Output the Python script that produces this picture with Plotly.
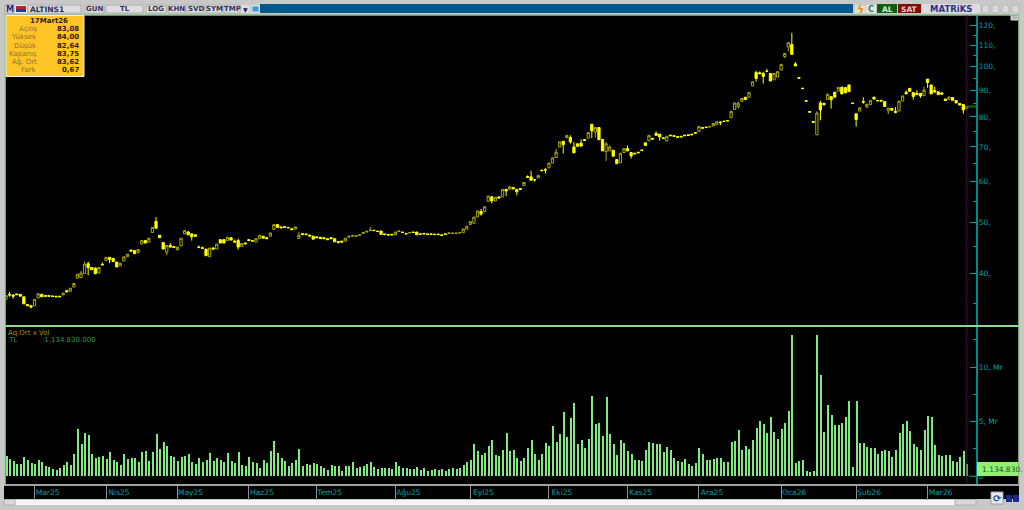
import plotly.graph_objects as go

months = ["Mar25","Nis25","May25","Haz25","Tem25","Ağu25","Eyl25","Eki25","Kas25","Ara25","Oca26","Şub26","Mar26"]
month_start = [8,28,48,68,87,109,130,152,174,194,217,238,258]

opens = [35.6,36.4,36.3,36.45,36.4,36.0,34.8,34.6,34.6,35.8,
36.4,36.2,36.2,36.15,36.1,36.1,36.3,37.0,36.9,37.6,
39.1,39.2,39.9,41.7,41.0,40.9,40.0,41.6,42.3,42.9,
42.7,42.0,41.3,42.2,43.0,44.3,44.2,43.8,45.5,46.2,
45.9,47.9,50.3,47.3,45.8,43.9,45.2,45.0,44.4,45.1,
47.6,48.0,47.6,47.4,44.9,44.75,44.5,43.0,44.7,44.5,
46.4,46.4,46.2,46.8,46.1,46.2,45.0,45.7,46.4,46.2,
45.9,46.6,47.1,46.8,47.1,48.55,49.6,49.1,49.15,49.0,
48.7,48.65,46.65,47.65,47.6,47.35,47.1,47.0,46.9,46.8,
46.6,46.8,46.6,46.0,46.1,46.1,46.9,47.1,47.1,47.3,
47.7,48.0,48.3,48.4,48.2,48.2,47.6,47.45,47.5,47.4,
48.1,48.0,47.7,47.8,48.0,48.0,47.6,47.7,47.6,47.6,
47.55,47.55,47.4,47.6,47.7,47.7,47.7,47.8,47.85,48.6,
49.65,49.9,51.3,52.6,52.6,55.0,56.1,55.1,56.1,56.1,
58.0,58.0,58.5,58.0,58.2,59.0,61.4,61.3,60.6,61.0,
63.1,63.3,63.8,65.2,66.8,70.0,71.8,72.9,73.0,70.0,
71.0,71.2,72.4,72.8,77.4,74.8,76.3,72.4,68.6,68.8,
69.0,66.2,65.3,68.3,69.5,68.3,68.1,68.4,69.1,71.3,
71.9,72.7,74.3,74.1,72.9,71.9,73.8,73.6,73.3,73.4,
73.8,73.9,74.1,74.6,75.0,76.3,76.5,76.5,76.8,77.3,
78.2,78.5,78.7,79.7,82.7,83.7,85.7,87.3,87.3,91.8,
97.4,97.3,97.1,98.0,97.0,94.3,95.4,98.5,104.6,109.1,
110.3,101.2,95.3,90.9,86.0,81.9,78.4,73.9,85.1,85.0,
86.4,87.5,89.3,89.7,91.3,91.1,92.2,85.1,81.1,82.1,
85.6,83.6,84.5,87.3,86.1,86.1,85.6,82.2,83.1,82.0,
82.1,85.8,89.2,90.8,89.1,88.8,88.8,87.9,94.6,92.2,
89.9,89.4,89.0,86.6,86.5,87.2,86.0,84.9,84.5,83.08]

closes = [36.2,36.3,36.1,36.35,36.1,34.9,34.6,34.4,35.6,36.5,
36.0,36.1,36.1,36.05,36.0,36.0,36.6,36.8,37.4,38.2,
39.8,40.0,41.6,41.0,40.6,39.9,41.0,41.5,42.9,42.5,
42.1,41.1,41.8,43.0,43.5,44.1,43.6,44.4,46.2,45.7,
46.7,49.0,48.8,46.8,44.5,45.2,44.9,44.8,44.9,46.7,
48.3,47.4,47.0,47.1,44.8,44.65,43.2,44.7,44.5,45.5,
45.7,45.7,46.9,46.3,45.9,44.9,45.6,45.55,46.2,46.1,
46.6,47.3,46.7,46.6,47.8,49.6,49.0,48.9,49.0,48.9,
48.5,49.1,47.3,47.45,47.45,47.15,46.5,46.8,46.6,46.6,
46.4,46.6,45.95,45.85,45.9,46.7,47.1,47.2,47.25,47.4,
47.9,48.15,48.4,48.3,48.1,47.5,47.45,47.35,47.4,48.0,
48.2,47.9,47.6,47.9,47.9,47.4,47.5,47.6,47.5,47.5,
47.45,47.45,47.3,47.5,47.8,47.75,47.75,47.85,48.65,49.25,
50.25,51.3,52.7,52.0,53.7,56.3,55.1,56.0,55.8,58.0,
57.6,58.7,58.1,57.4,58.0,59.8,61.2,60.4,60.5,61.7,
63.0,63.2,65.2,66.7,68.4,71.6,70.8,73.7,71.6,68.2,
70.2,70.3,72.0,74.6,75.2,76.3,72.3,68.8,71.0,70.0,
67.2,65.0,68.1,69.5,68.8,67.3,67.9,68.2,68.9,70.5,
73.7,72.5,73.7,73.2,72.7,73.4,73.6,73.4,73.1,73.2,
73.6,73.7,73.9,74.4,76.7,76.1,76.3,76.6,77.7,78.3,
78.0,78.4,78.6,82.0,85.1,85.0,86.8,86.4,89.1,93.5,
94.9,96.9,95.7,97.9,93.8,97.0,97.8,101.0,106.0,111.2,
105.6,100.3,95.0,90.7,85.8,81.7,78.1,81.4,82.5,84.5,
88.4,86.3,87.3,91.2,88.6,89.0,89.5,84.9,79.1,83.3,
85.4,84.6,86.0,86.6,85.9,85.8,83.8,83.2,82.4,81.6,
85.8,87.8,88.6,89.6,87.6,88.3,87.8,90.1,93.2,88.6,
89.3,88.3,88.5,86.0,87.4,86.1,85.1,84.3,82.5,83.75]

highs = [36.2,36.8,36.3,36.5,36.4,36.0,34.8,34.7,35.6,36.5,
36.5,36.2,36.2,36.15,36.1,36.1,36.6,37.1,37.4,38.2,
39.8,40.4,42.1,42.1,41.0,41.0,41.0,41.9,42.9,42.9,
42.7,42.0,41.8,43.0,43.5,44.4,44.2,44.4,46.2,46.3,
46.7,49.0,51.3,47.4,45.8,45.2,45.7,45.0,44.9,46.7,
48.3,48.2,47.7,47.4,45.2,45.0,44.5,44.7,44.9,45.5,
46.4,46.4,46.9,46.8,46.4,46.6,45.6,45.8,46.5,46.3,
46.6,47.3,47.1,46.8,47.8,49.6,49.7,49.1,49.2,49.0,
48.7,49.1,48.05,47.7,47.6,47.35,47.1,47.0,46.9,46.8,
46.6,46.8,46.6,46.0,46.1,46.7,47.1,47.4,47.25,47.4,
47.9,48.15,49.1,48.4,48.2,48.2,47.6,47.45,47.5,48.0,
48.3,48.0,47.7,47.9,48.0,48.0,47.6,47.7,47.6,47.6,
47.55,47.55,47.4,47.6,47.8,47.75,47.75,47.85,48.65,49.25,
50.25,51.3,52.7,53.2,53.7,56.3,56.3,56.0,56.1,58.0,
58.0,58.7,58.5,58.0,58.2,59.8,61.7,63.0,60.6,61.7,
63.4,63.8,65.2,66.7,69.4,71.6,71.8,73.7,73.7,71.6,
71.0,72.4,72.4,74.6,77.6,76.3,76.3,72.4,71.5,70.5,
69.0,66.2,68.1,69.5,70.5,68.3,68.1,68.4,69.1,71.3,
73.7,72.9,75.0,74.1,72.9,73.4,73.8,73.6,73.3,73.4,
73.8,73.9,74.1,74.6,76.7,76.3,76.5,76.6,77.7,78.3,
78.4,78.5,78.7,82.0,85.1,85.6,86.8,87.3,89.1,93.5,
98.2,97.9,97.5,99.0,97.2,97.0,97.8,101.0,106.0,111.2,
116.2,102.0,95.3,90.9,86.0,81.9,78.4,82.0,86.0,85.0,
88.8,87.5,89.3,91.2,91.3,91.1,92.2,85.1,81.1,83.3,
87.3,84.6,86.0,87.5,86.1,86.1,85.6,83.2,83.1,83.6,
85.8,87.8,90.0,90.8,89.1,90.0,88.8,91.5,94.6,92.2,
91.5,89.4,89.0,86.6,87.4,87.2,86.0,84.9,84.5,84.0]

lows = [35.6,36.0,35.7,36.3,36.1,34.9,34.6,34.2,34.6,35.8,
36.0,36.0,36.1,36.05,36.0,36.0,36.3,36.8,36.9,37.6,
39.1,39.2,39.9,39.6,40.6,39.8,40.0,41.4,42.3,41.8,
42.1,41.1,41.3,42.2,43.0,44.0,43.6,43.8,45.5,45.7,
45.9,47.9,48.8,46.8,44.5,43.3,44.8,44.8,44.2,45.1,
47.6,47.4,46.2,47.0,44.8,44.5,43.2,43.0,44.3,44.5,
45.7,45.7,46.2,46.3,45.8,44.4,45.0,45.5,46.2,46.1,
45.9,46.6,46.7,46.6,47.1,48.55,49.0,48.9,49.0,48.9,
48.5,48.65,46.65,47.45,47.4,47.15,46.5,46.8,46.6,46.6,
46.4,46.6,45.95,45.6,45.9,46.1,46.9,47.1,47.1,47.3,
47.7,48.0,48.3,48.3,48.1,47.5,47.45,47.35,47.4,47.4,
48.1,47.9,47.6,47.8,47.9,47.4,47.5,47.6,47.5,47.5,
47.45,47.45,47.3,47.5,47.7,47.7,47.7,47.8,47.85,48.6,
49.65,49.9,51.3,51.6,52.6,55.0,54.5,55.1,55.8,56.1,
56.3,58.0,58.1,56.5,58.0,59.0,61.0,60.4,60.0,61.0,
63.0,62.2,63.8,65.2,66.8,70.0,68.0,72.9,71.0,68.2,
70.2,70.0,72.0,72.8,72.8,73.0,72.3,68.8,65.8,68.8,
67.2,65.0,65.3,68.3,68.8,66.5,67.9,68.2,68.9,70.5,
71.9,72.3,73.7,72.0,72.7,71.9,73.6,73.4,73.1,73.2,
73.6,73.7,73.9,74.4,75.0,76.1,76.3,76.5,76.8,77.3,
77.1,78.4,78.6,79.7,82.7,83.0,85.7,86.4,87.3,91.8,
93.5,96.9,92.7,97.7,93.8,94.3,95.4,98.5,103.8,107.0,
105.6,100.3,95.0,90.7,85.8,81.7,78.1,73.9,78.8,84.0,
86.4,83.0,87.3,89.7,88.6,89.0,89.5,84.9,76.6,82.1,
84.8,83.2,84.5,86.4,85.9,85.8,83.8,81.0,82.4,81.3,
82.1,85.8,88.6,89.6,86.3,88.3,87.0,87.9,91.0,88.6,
89.3,88.3,88.5,86.0,86.5,86.1,85.1,84.3,81.2,82.64]

volume_mr = [1.83,1.53,1.38,1.13,1.07,1.71,1.44,1.19,1.10,1.44,
1.31,.89,.83,.61,.58,.70,1.01,1.31,1.01,1.99,
4.28,2.97,3.94,3.73,1.99,1.68,1.74,1.80,1.56,2.17,
1.44,1.31,1.01,2.05,1.56,1.62,1.62,1.25,2.23,2.29,
1.38,2.17,3.82,2.48,3.15,2.72,1.80,1.74,1.38,1.74,
1.87,1.99,1.31,1.13,1.62,1.31,1.44,2.11,1.38,1.68,
1.44,1.25,2.11,1.38,1.19,2.17,1.01,.89,1.74,1.25,
1.19,.70,1.47,1.19,2.32,3.18,2.11,1.62,1.38,.95,
1.19,1.50,2.48,.95,1.13,1.01,1.19,1.07,.95,.76,
.52,1.01,.95,.89,.46,.95,.95,1.25,.76,.83,
.95,1.07,1.25,.83,.64,.76,.76,.76,.64,1.25,
.89,.76,.70,.64,.64,.83,.58,.70,.46,.52,
.64,.58,.64,.46,.64,.70,.64,.70,1.01,1.25,
1.44,2.91,2.29,1.93,2.11,2.78,3.33,1.93,1.87,2.42,
3.91,2.32,2.39,1.68,1.38,1.68,2.54,3.27,2.05,1.50,
1.99,3.03,2.72,4.56,3.09,3.82,5.84,3.58,5.29,6.73,
2.97,3.27,2.54,3.39,7.34,4.74,4.86,3.70,7.22,3.82,
2.91,1.93,3.27,3.03,2.29,2.05,1.50,1.50,1.38,2.35,
3.09,3.03,2.97,2.97,2.23,2.66,2.35,1.62,1.38,1.31,
1.56,1.13,.95,1.19,2.54,1.99,1.44,1.44,1.56,1.68,
1.68,1.25,1.25,3.09,3.21,4.25,2.42,2.72,2.48,3.27,
4.43,5.05,4.80,3.98,5.44,4.04,3.36,4.28,4.89,5.99,
12.9,1.19,1.38,1.44,.43,.40,.46,12.9,9.24,4.04,
6.54,5.63,4.71,4.65,4.89,5.38,6.85,.86,6.91,3.0,
3.0,2.63,2.54,2.54,2.02,2.26,2.35,2.29,1.71,2.35,
3.91,4.77,5.08,4.16,2.94,2.69,2.39,4.22,5.50,5.44,
2.87,1.93,1.87,1.93,1.93,1.41,1.32,1.77,2.32,1.13483]

price_ticks = [40,50,60,70,80,90,100,110,120]
price_ticktext = ["40,","50,","60,","70,","80,","90,","100,","110,","120,"]
price_minor = [35,45,55,65,75,85,95,105,115,125]
vol_ticks = [0,5,10]
vol_ticktext = ["0","5, Mr","10, Mr"]
vol_minor = [2.5,7.5,12.5]

info_title = "17Mart26"
info_labels = ["Açılış","Yüksek","Düşük","Kapanış","Ağ. Ort","Fark"]
info_values = ["83,08","84,00","82,64","83,75","83,62","0,67"]

assert len(opens)==len(closes)==len(highs)==len(lows)==len(volume_mr)==270
idx = list(range(len(opens)))
W, H = 1024, 510
FONT = "DejaVu Sans"
TEAL = "#00a0a0"

def fx(p): return p / W
def fy(p): return 1 - p / H

shapes, annos = [], []
def rect(x0, y0, x1, y1, fill, line=None, lw=1, layer="above"):
    shapes.append(dict(type="rect", xref="paper", yref="paper", x0=fx(x0), x1=fx(x1), y0=fy(y1), y1=fy(y0), layer=layer,
                       fillcolor=fill, line=dict(color=line or fill, width=lw if line else 0)))
def text(x, y, s, color, size=7.5, anchor="center", bold=False, family=FONT):
    annos.append(dict(xref="paper", yref="paper", x=fx(x), y=fy(y), text=f"<b>{s}</b>" if bold else s, showarrow=False,
                      xanchor=anchor, yanchor="middle", borderpad=0, font=dict(family=family, size=size, color=color)))

# toolbar
rect(0, 0, W, 14.5, "#c8c8c8")
rect(260, 4, 853, 13, "#00598c")
rect(5, 5, 14, 13, "#e8e8e8", "#a0a0a0")
text(9.5, 9, "M", "#1a2a80", 8, bold=True)
rect(15, 5, 27, 13, "#e8e8e8")
rect(16, 6, 26, 9, "#c02020")
rect(16, 9, 26, 12, "#2a3a90")
rect(28, 5, 81, 13, "#dcdcdc", "#b0b0b0")
text(29, 9, "ALTINS1", "#30305a", 7.5, "left", bold=True)
for x0, x1, lab in [(85,104,"GUN"),(106,143,"TL"),(146,166,"LOG"),(168,185,"KHN"),(187,204,"SVD"),(206,222,"SYM"),(224,240,"TMP")]:
    rect(x0, 5, x1, 13, "#dcdcdc", "#b0b0b0")
    text((x0+x1)/2, 9, lab, "#30305a", 7, bold=True)
rect(241, 5, 250, 13, "#dcdcdc")
text(245.5, 9, "▼", "#20205a", 6)
rect(251, 5, 260, 13, "#dcdcdc")
rect(252.5, 6.5, 258.5, 11.5, "#30a0e0")
rect(855, 5, 865, 13, "#e0e0d0")
text(860, 9, "ϟ", "#e09020", 11, bold=True)
rect(866, 5, 876, 13, "#e0e8e0")
text(871, 9, "C", "#208080", 8, bold=True)
rect(877, 4, 897, 13, "#0c600c")
text(887, 9, "AL", "#d8f0d8", 7.5, bold=True)
rect(898, 4, 921, 13, "#800c0c")
text(909.5, 9, "SAT", "#f0d0d0", 7.5, bold=True)
rect(922, 4, 980, 13, "#dcdce4")
text(951, 9, "MATRiKS", "#303080", 8.5, bold=True)
for x0 in [982, 992, 1002, 1012]:
    rect(x0, 5, x0+7, 13, "#d8d8d8", "#b8b8b8")
rect(1011, 14, 1018, 20, "#b8b8b8", "#e0e0e0")

# panel frames
rect(4.5, 14.5, 1019.5, 15.5, "#70b870")
rect(4.5, 14.5, 5.5, 484, "#90d890")
rect(1018.5, 14.5, 1019.5, 484, "#90d890")
rect(4.5, 325, 1019.5, 327, "#90d890")
rect(4.5, 484, 1019.5, 486, "#a0a0a0")

# info box
rect(6, 15.5, 84, 76.5, "#ffc425", "#f0f0f0", 1)
text(49, 21, info_title, "#302000", 7, bold=True)
for n, (lab, val) in enumerate(zip(info_labels, info_values)):
    y = 29.2 + n * 8.2
    text(38, y, lab, "#8a7830", 7, "right")
    text(80, y, val, "#302000", 7, "right", bold=True)

# volume captions
text(7, 332.5, "Aq.Ort x Vol", "#a09000", 7, "left")
text(7, 340, "TL", "#2e9a4e", 7, "left")
text(41, 340, ":1.134.830.000", "#2e9a4e", 7, "left")

# last-value box
rect(977, 462, 1018.5, 476, "#90f070")
text(981, 469, "1.134.830.", "#285028", 7.5, "left")

# bottom strip
rect(4, 486, 1019, 499, "#000000", layer="below")
rect(4, 500, 975, 505, "#f4f4f4")
rect(4, 499.5, 15, 505, "#d8d8d8", "#b0b0b0")
rect(955, 499.5, 976, 505, "#d8d8d8", "#b0b0b0")
rect(991, 492, 1003, 504, "#e8e8f4", "#a0a0a0")
text(997, 498, "⟳", "#1a50a0", 10, bold=True)
rect(1006, 495, 1012, 502, "#1a2a90")
rect(1013, 495, 1019, 502, "#1a2a90")

# data-linked markers: last-bar crosshair and price / volume pointers
last = idx[-1]
for yref in ("y domain", "y2 domain"):
    xref = "x" if yref.startswith("y ") else "x2"
    shapes.append(dict(type="line", xref=xref, yref=yref, x0=last, x1=last, y0=0, y1=1,
                       line=dict(color="#48104a", width=1)))
shapes.append(dict(type="line", xref="x", yref="y", x0=last+0.2, x1=last+2.6, y0=closes[-1], y1=closes[-1],
                   line=dict(color="#0a6a0a", width=2)))
shapes.append(dict(type="line", xref="x2", yref="y2", x0=last+0.2, x1=last+2.6, y0=0, y1=0,
                   line=dict(color="#0a6a0a", width=1)))

fig = go.Figure()
fig.add_trace(go.Candlestick(x=idx, open=opens, high=highs, low=lows, close=closes, xaxis="x", yaxis="y",
    increasing=dict(line=dict(color="#a8a800", width=1), fillcolor="#000000"),
    decreasing=dict(line=dict(color="#ffff00", width=1), fillcolor="#ffff00"),
    whiskerwidth=0, showlegend=False, hoverinfo="skip"))
fig.add_trace(go.Bar(x=idx, y=volume_mr, xaxis="x2", yaxis="y2", width=0.56,
    marker=dict(color="#80ea80", line=dict(width=0)), showlegend=False, hoverinfo="skip"))

xr = [(5.5 - 6) / 3.572, (1018.5 - 6) / 3.572]
dom_x = [fx(5.5), fx(1018.5)]
tickfont = dict(family=FONT, size=7.5, color=TEAL)
fig.update_layout(
    width=W, height=H, margin=dict(l=0, r=0, t=0, b=0), autosize=False,
    paper_bgcolor="#c8c8c8", plot_bgcolor="#000000", bargap=0, boxgap=0.1,
    shapes=shapes, annotations=annos, hovermode=False,
    xaxis=dict(domain=dom_x, range=xr, anchor="y", showticklabels=False, showgrid=False, zeroline=False,
               showline=False, ticks="", rangeslider=dict(visible=False)),
    xaxis2=dict(domain=dom_x, range=xr, anchor="y2", tickmode="array", tickvals=month_start, ticktext=months,
                tickfont=tickfont, ticks="outside", ticklen=15, tickcolor="#909090", tickwidth=1,
                ticklabelshift=13, ticklabelstandoff=-14,
                showgrid=False, zeroline=False, showline=False),
    yaxis=dict(domain=[fy(325), fy(15.5)], type="log", range=[1.50200, 2.0985], anchor="free", position=fx(976.5),
               side="right", tickmode="array", tickvals=price_ticks, ticktext=price_ticktext, tickfont=tickfont,
               ticks="inside", ticklen=6, tickcolor=TEAL, tickwidth=1, showline=True, linecolor="#008a8a", linewidth=1.5,
               showgrid=False, zeroline=False,
               minor=dict(tickmode="array", tickvals=price_minor, ticks="inside", ticklen=3, tickcolor=TEAL, showgrid=False)),
    yaxis2=dict(domain=[fy(484), fy(327)], range=[-0.734, 13.67], anchor="free", position=fx(976.5),
                side="right", tickmode="array", tickvals=vol_ticks, ticktext=vol_ticktext, tickfont=tickfont,
                ticks="inside", ticklen=6, tickcolor=TEAL, tickwidth=1, showline=True, linecolor="#008a8a", linewidth=1.5,
                showgrid=False, zeroline=False,
                minor=dict(tickmode="array", tickvals=vol_minor, ticks="inside", ticklen=3, tickcolor=TEAL, showgrid=False)),
)
fig.write_html("out.html", config=dict(displayModeBar=False),
               post_script="document.body.style.margin='0';document.body.style.overflow='hidden';")
